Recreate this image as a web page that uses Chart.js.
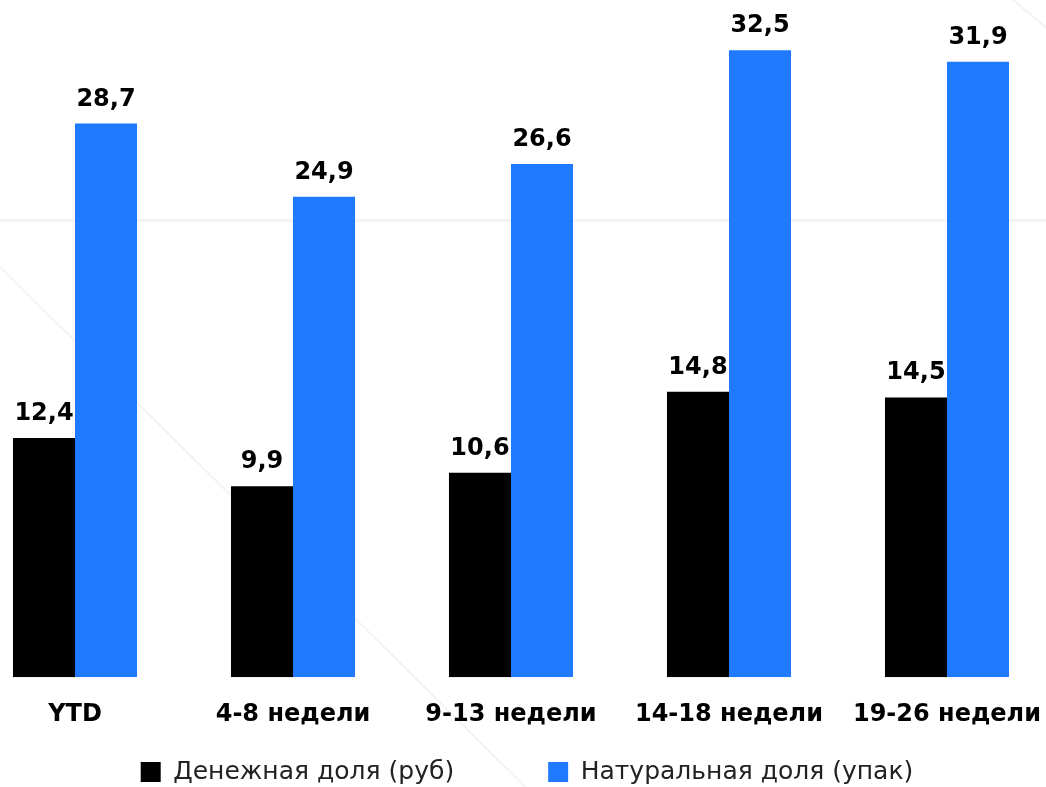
<!DOCTYPE html>
<html>
<head>
<meta charset="utf-8">
<script src="https://cdn.jsdelivr.net/npm/chart.js@4"></script>
<style>
  html, body { margin: 0; padding: 0; background: #ffffff; overflow: hidden; width: 1046px; height: 787px; position: relative; }
  .deco { position: absolute; background: #f3f3f3; height: 2px; transform-origin: 0 50%; }
  #h1 { left: 0; top: 219px; width: 1046px; height: 3px; }
  #d1 { left: 0; top: 266px; width: 760px; transform: rotate(44.7deg); }
  #d2 { left: 1012px; top: -2px; width: 120px; transform: rotate(40deg); }
  #wrap { position: absolute; left: -34px; top: 0; width: 1090px; height: 787px; overflow: hidden; }
</style>
</head>
<body>
<div class="deco" id="h1"></div>
<div class="deco" id="d1"></div>
<div class="deco" id="d2"></div>
<div id="wrap"><canvas id="c" width="1090" height="873"></canvas></div>
<script>
const categories = ['YTD', '4-8 недели', '9-13 недели', '14-18 недели', '19-26 недели'];
const moneyShare = [12.4, 9.9, 10.6, 14.8, 14.5];
const naturalShare = [28.7, 24.9, 26.6, 32.5, 31.9];
const seriesNames = ['Денежная доля (руб)', 'Натуральная доля (упак)'];

const FONT = "'DejaVu Sans', sans-serif";
const LEGEND_PAD = 94;

const valueLabels = {
  id: 'valueLabels',
  afterDatasetsDraw(chart) {
    const ctx = chart.ctx;
    ctx.save();
    ctx.font = "bold 24px " + FONT;
    ctx.fillStyle = '#000';
    ctx.textAlign = 'center';
    ctx.textBaseline = 'alphabetic';
    chart.data.datasets.forEach((ds, i) => {
      chart.getDatasetMeta(i).data.forEach((bar, j) => {
        const txt = ds.data[j].toFixed(1).replace('.', ',');
        ctx.fillText(txt, bar.x, bar.y - 18);
      });
    });
    ctx.restore();
  }
};

const legendPlace = {
  id: 'legendPlace',
  afterLayout(chart) {
    const lg = chart.legend;
    if (!lg) return;
    const shift = 16;
    lg.left += shift;
    lg.right += shift;
    lg.top = 772 - LEGEND_PAD - 12.5;
    lg.bottom = lg.top + 200;
  }
};

new Chart(document.getElementById('c'), {
  type: 'bar',
  data: {
    labels: categories,
    datasets: [
      { label: seriesNames[0], data: moneyShare, backgroundColor: '#000000', borderWidth: 0 },
      { label: seriesNames[1], data: naturalShare, backgroundColor: '#1f7aff', borderWidth: 0 }
    ]
  },
  options: {
    responsive: false,
    animation: false,
    layout: { padding: { top: 2, left: 0, right: 0, bottom: 0 } },
    datasets: { bar: { barPercentage: 1.0, categoryPercentage: 0.569 } },
    scales: {
      x: {
        grid: { display: false },
        border: { display: false },
        ticks: { color: '#000', font: { family: FONT, size: 24, weight: 'bold' }, padding: 15, maxRotation: 0, autoSkip: false }
      },
      y: { display: false, min: 0, max: 35 }
    },
    plugins: {
      legend: {
        position: 'bottom',
        labels: { color: '#222', font: { family: FONT, size: 25 }, boxWidth: 20, boxHeight: 20, padding: LEGEND_PAD }
      },
      tooltip: { enabled: false }
    }
  },
  plugins: [valueLabels, legendPlace]
});
</script>
</body>
</html>
